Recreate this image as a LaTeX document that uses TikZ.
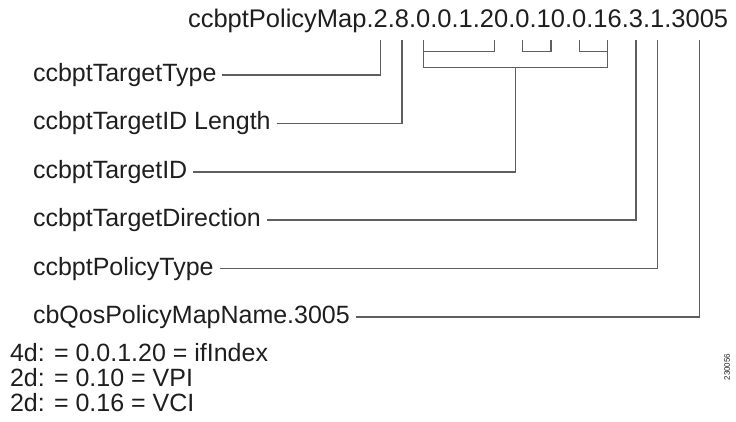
\documentclass[tikz,border=0pt]{standalone}
\usepackage{fontspec}
\setmainfont{Liberation Sans}
\usetikzlibrary{calc}
\definecolor{txt}{RGB}{30,30,30}
\definecolor{ln}{RGB}{95,95,95}
\tikzset{
  tok/.style={inner sep=0pt, outer sep=0pt, anchor=base west, text=txt, font=\fontsize{25.5}{30}\selectfont},
  lbl/.style={inner sep=0pt, outer sep=0pt, anchor=west, text=txt, text height=18pt, text depth=5pt, font=\fontsize{25}{30}\selectfont},
  note/.style={inner sep=0pt, outer sep=0pt, anchor=base west, text=txt, font=\fontsize{25}{30}\selectfont},
  conn/.style={draw=ln, line width=1.3pt},
}
\begin{document}
\begin{tikzpicture}[x=1pt,y=-1pt]
\useasboundingbox (0,0) rectangle (736,422);
% top OID string, token by token
\node[tok] (t0) at (188,28) {ccbptPolicyMap.};
\node[tok] (d2) at (t0.base east) {2};
\node[tok] (p1) at (d2.base east) {.};
\node[tok] (d8) at (p1.base east) {8};
\node[tok] (p2) at (d8.base east) {.};
\node[tok] (a0) at (p2.base east) {0};
\node[tok] (p3) at (a0.base east) {.0.1.};
\node[tok] (a20) at (p3.base east) {20};
\node[tok] (p4) at (a20.base east) {.};
\node[tok] (b0) at (p4.base east) {0};
\node[tok] (p5) at (b0.base east) {.};
\node[tok] (b10) at (p5.base east) {10};
\node[tok] (p6) at (b10.base east) {.};
\node[tok] (c0) at (p6.base east) {0};
\node[tok] (p7) at (c0.base east) {.};
\node[tok] (c16) at (p7.base east) {16};
\node[tok] (p8) at (c16.base east) {.};
\node[tok] (d3) at (p8.base east) {3};
\node[tok] (p9) at (d3.base east) {.};
\node[tok] (d1) at (p9.base east) {1};
\node[tok] (p10) at (d1.base east) {.};
\node[tok] (d3005) at (p10.base east) {3005};
% labels
\node[lbl] (l1) at (33,75) {ccbptTargetType};
\node[lbl] (l2) at (33,123.5) {ccbptTargetID Length};
\node[lbl] (l3) at (33,172) {ccbptTargetID};
\node[lbl] (l4) at (33,220) {ccbptTargetDirection};
\node[lbl] (l5) at (33,268.5) {ccbptPolicyType};
\node[lbl] (l6) at (33,317) {cbQosPolicyMapName.3005};
% notes
\node[note] (n1) at (10,361) {4d: = 0.0.1.20 = ifIndex};
\node[note] (n2) at (10,386) {2d: = 0.10 = VPI};
\node[note] (n3) at (10,411) {2d: = 0.16 = VCI};
\node[inner sep=0pt, rotate=90, text=txt, font=\fontsize{8}{9}\selectfont] (fid) at (727,367) {230056};
% brackets
\draw[conn] ([yshift=-12pt]a0.south) |- ([yshift=-39pt]c16.south) -- ([yshift=-12pt]c16.south);
\draw[conn] ([yshift=-12pt]a20.south) |- ([yshift=-23pt]a0.south);
\draw[conn] ([yshift=-12pt]b0.south) |- ([yshift=-23pt]b10.south) -- ([yshift=-12pt]b10.south);
\draw[conn] ([yshift=-12pt]c0.south) |- ([yshift=-23pt]c16.south);
\coordinate (stem) at ($([yshift=-39pt]a0.south)!0.5!([yshift=-39pt]c16.south)$);
% connectors
\draw[conn] ([xshift=6pt]l1.east) -| ([yshift=-12pt]d2.south);
\draw[conn] ([xshift=6pt]l2.east) -| ([yshift=-12pt]d8.south);
\draw[conn] ([xshift=6pt]l3.east) -| (stem);
\draw[conn] ([xshift=6pt]l4.east) -| ([yshift=-12pt]d3.south);
\draw[conn] ([xshift=6pt]l5.east) -| ([yshift=-12pt]d1.south);
\draw[conn] ([xshift=6pt]l6.east) -| ([yshift=-12pt]d3005.south);
\end{tikzpicture}
\end{document}
